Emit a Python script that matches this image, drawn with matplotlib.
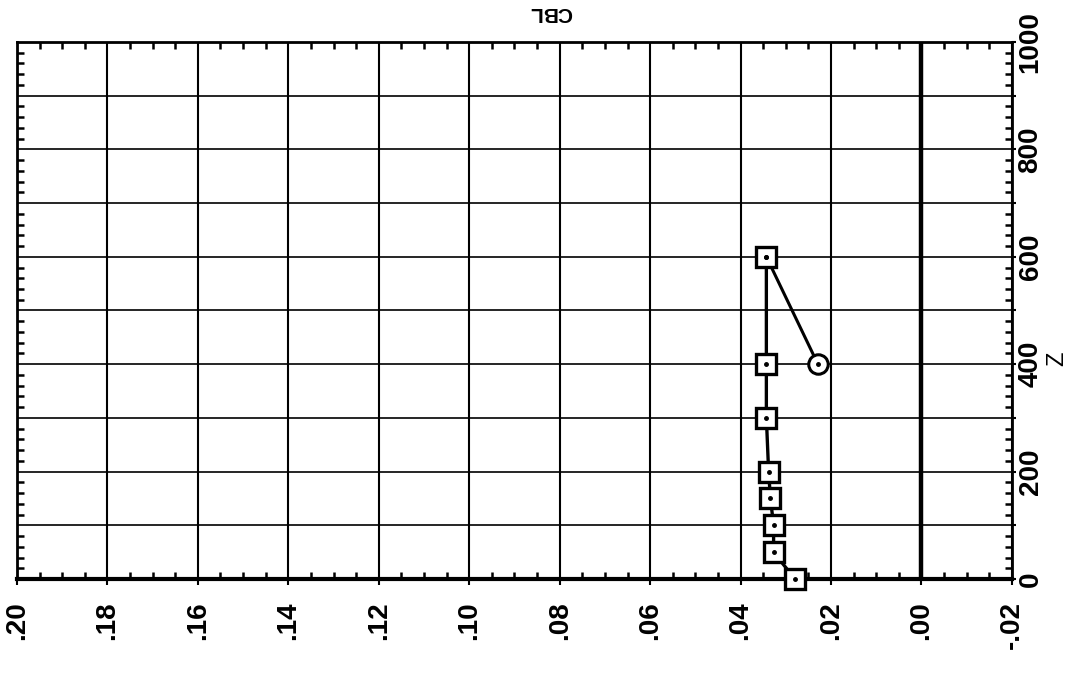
import matplotlib
matplotlib.use('Agg')
import matplotlib.pyplot as plt
from matplotlib.ticker import MultipleLocator, FixedLocator, FixedFormatter, FuncFormatter

plt.rcParams['font.family'] = ['Liberation Sans', 'DejaVu Sans']
plt.rcParams['font.weight'] = 'bold'

z_sq = [0, 50, 100, 150, 200, 300, 400, 600]
cbl_sq = [0.0280, 0.0327, 0.0327, 0.0334, 0.0338, 0.0343, 0.0343, 0.0343]
z_circ = [400, 600]
cbl_circ = [0.0229, 0.0343]

cbl_ticks = [0.20, 0.18, 0.16, 0.14, 0.12, 0.10, 0.08, 0.06, 0.04, 0.02, 0.00, -0.02]
cbl_labels = ['.20', '.18', '.16', '.14', '.12', '.10', '.08', '.06', '.04', '.02', '.00', '-.02']

fig = plt.figure(figsize=(10.73, 6.73), dpi=100)
ax = fig.add_axes([0.0158, 0.1397, 0.9273, 0.7979])

# grid first so data sits on top
ax.set_axisbelow(True)
ax.grid(True, which='major', axis='x', color='k', lw=1.5)
ax.grid(True, which='major', axis='y', color='k', lw=1.2)
ax.axvline(0.0, color='k', lw=3.2)

# data
ax.plot(cbl_circ, z_circ, '-', color='k', lw=2.2, marker='o', ms=14,
        mfc='white', mec='k', mew=2.2, zorder=3, clip_on=False)
ax.plot(cbl_sq, z_sq, '-', color='k', lw=2.4, marker='s', ms=14,
        mfc='white', mec='k', mew=2.4, zorder=4, clip_on=False)
ax.plot(cbl_sq + cbl_circ, z_sq + z_circ, 'o', color='k', ms=2.5, zorder=5,
        clip_on=False)

ax.set_xlim(0.20, -0.02)
ax.set_ylim(0, 1000)

# ticks
ax.xaxis.set_major_locator(FixedLocator(cbl_ticks))
ax.xaxis.set_major_formatter(FixedFormatter(cbl_labels))
ax.xaxis.set_minor_locator(MultipleLocator(0.005))
ax.yaxis.set_major_locator(MultipleLocator(100))
ax.yaxis.set_major_formatter(FuncFormatter(lambda v, p: '%d' % v if v % 200 == 0 else ''))
ax.yaxis.set_minor_locator(MultipleLocator(20))

ax.tick_params(axis='x', which='major', direction='out', length=4, width=1.5,
               top=False, bottom=True, labelsize=20, labelrotation=90, pad=12)
ax.tick_params(axis='x', which='minor', direction='in', length=5, width=1.8,
               top=True, bottom=True)
ax.tick_params(axis='y', which='major', direction='out', length=3, width=1.5,
               left=False, right=True, labelleft=False, labelright=True,
               labelsize=20, labelrotation=90, pad=1)
ax.tick_params(axis='y', which='minor', direction='in', length=5, width=1.8,
               left=True, right=True)
plt.setp(ax.get_yticklabels(), va='center')

for side in ['top', 'left', 'right']:
    ax.spines[side].set_linewidth(2.0)
ax.spines['bottom'].set_linewidth(3.0)

ax.yaxis.set_label_position('right')
ax.set_ylabel('Z', fontsize=17, rotation=90, ha='center', va='center')
ax.yaxis.set_label_coords(1.046, 0.41)

ax.text(0.536, 1.054, 'CBL', rotation=180, ha='center', va='center',
        fontsize=15, transform=ax.transAxes)

fig.savefig('out.png', dpi=100)
